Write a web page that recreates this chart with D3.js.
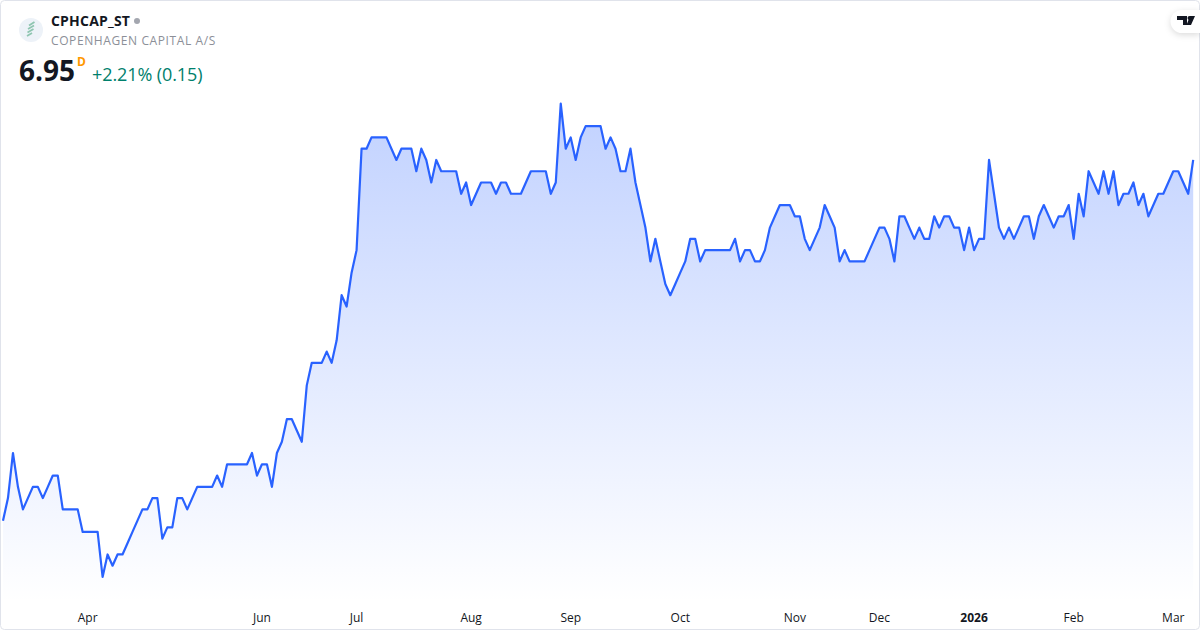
<!DOCTYPE html>
<html>
<head>
<meta charset="utf-8">
<script src="https://cdn.jsdelivr.net/npm/d3@7"></script>
<style>
html,body{margin:0;padding:0;background:#fff;}
svg{display:block;}
text{font-family:"Open Sans","Noto Sans",sans-serif;}
</style>
</head>
<body>
<svg id="chart" width="1200" height="630"></svg>
<script>
const symbol = "CPHCAP_ST";
const companyName = "COPENHAGEN CAPITAL A/S";
const lastPrice = "6.95";
const interval = "D";
const changeLabel = "+2.21% (0.15)";

const closes = [
5.35,5.45,5.65,5.50,5.40,5.45,5.50,5.50,5.45,5.50,5.55,5.55,5.40,5.40,5.40,5.40,
5.30,5.30,5.30,5.30,5.10,5.20,5.15,5.20,5.20,5.25,5.30,5.35,5.40,5.40,5.45,5.45,
5.27,5.32,5.32,5.45,5.45,5.40,5.45,5.50,5.50,5.50,5.50,5.55,5.50,5.60,5.60,5.60,
5.60,5.60,5.65,5.55,5.60,5.60,5.50,5.65,5.70,5.80,5.80,5.75,5.70,5.95,6.05,6.05,
6.05,6.10,6.05,6.15,6.35,6.30,6.45,6.55,7.00,7.00,7.05,7.05,7.05,7.05,7.00,6.95,
7.00,7.00,7.00,6.90,7.00,6.95,6.85,6.95,6.90,6.90,6.90,6.90,6.80,6.85,6.75,6.80,
6.85,6.85,6.85,6.80,6.85,6.85,6.80,6.80,6.80,6.85,6.90,6.90,6.90,6.90,6.80,6.85,
7.20,7.00,7.05,6.95,7.05,7.10,7.10,7.10,7.10,7.00,7.05,7.00,6.90,6.90,7.00,6.85,
6.75,6.65,6.50,6.60,6.50,6.40,6.35,6.40,6.45,6.50,6.60,6.60,6.50,6.55,6.55,6.55,
6.55,6.55,6.55,6.60,6.50,6.55,6.55,6.50,6.50,6.55,6.65,6.70,6.75,6.75,6.75,6.70,
6.70,6.60,6.55,6.60,6.65,6.75,6.70,6.65,6.50,6.55,6.50,6.50,6.50,6.50,6.55,6.60,
6.65,6.65,6.60,6.50,6.70,6.70,6.65,6.60,6.65,6.60,6.60,6.70,6.65,6.70,6.70,6.65,
6.65,6.55,6.65,6.55,6.60,6.60,6.95,6.80,6.65,6.60,6.65,6.60,6.65,6.70,6.70,6.60,
6.70,6.75,6.70,6.65,6.70,6.70,6.75,6.60,6.80,6.70,6.90,6.85,6.80,6.90,6.80,6.90,
6.75,6.80,6.80,6.85,6.75,6.80,6.70,6.75,6.80,6.80,6.85,6.90,6.90,6.85,6.80,6.95
];
const tickIndices = [17,52,71,94,114,136,159,176,195,215,235];
const tickLabels = ["Apr","Jun","Jul","Aug","Sep","Oct","Nov","Dec","2026","Feb","Mar"];

const svg = d3.select("#chart");
const x = d3.scaleLinear().domain([0, closes.length - 1]).range([3, 1193.2]);
const y = d3.scaleLinear().domain([5.10, 7.20]).range([577, 103.6]);
const plotBottom = 602;

const defs = svg.append("defs");
const grad = defs.append("linearGradient").attr("id","fill")
  .attr("gradientUnits","userSpaceOnUse")
  .attr("x1",0).attr("x2",0).attr("y1",y(7.20)).attr("y2",plotBottom);
grad.append("stop").attr("offset",0).attr("stop-color","#2962ff").attr("stop-opacity",0.29);
grad.append("stop").attr("offset",1).attr("stop-color","#2962ff").attr("stop-opacity",0.0);

svg.append("path").datum(closes)
  .attr("fill","url(#fill)")
  .attr("d", d3.area().x((d,i)=>x(i)).y0(plotBottom).y1(d=>y(d)));
svg.append("path").datum(closes)
  .attr("fill","none").attr("stroke","#2962ff").attr("stroke-width",2.2)
  .attr("stroke-linejoin","round")
  .attr("d", d3.line().x((d,i)=>x(i)).y(d=>y(d)));

// time axis
const axis = d3.axisBottom(x).tickValues(tickIndices)
  .tickFormat((d,i)=>tickLabels[i]).tickSize(0).tickPadding(0);
const gAxis = svg.append("g").attr("transform","translate(-0.5,613)").call(axis);
gAxis.select(".domain").remove();
gAxis.selectAll("text")
  .attr("font-size",12).attr("fill","#131722")
  .attr("font-family",'"Open Sans","Noto Sans",sans-serif')
  .attr("font-weight",(d,i)=>tickLabels[i]==="2026"?700:400);

// frame
svg.append("rect").attr("x",0.5).attr("y",0.5).attr("width",1199).attr("height",629)
  .attr("rx",4).attr("fill","none").attr("stroke","#e0e3eb");

// header
const logo = svg.append("g").attr("transform","translate(31,30)");
logo.append("circle").attr("r",12).attr("fill","#edf2f8");
[[-2,-4.5,3.5,-8],[-3,-1,3,-4.5],[-3.5,2.5,2.5,-1],[-4,6,1,3]].forEach(s=>{
  logo.append("line").attr("x1",s[0]).attr("y1",s[1]).attr("x2",s[2]).attr("y2",s[3])
    .attr("stroke","#8ec5b0").attr("stroke-width",1.8);
});
svg.append("text").attr("x",51).attr("y",26).attr("font-size",14).attr("font-weight",700).attr("letter-spacing","0.2").attr("fill","#131722").text(symbol);
svg.append("circle").attr("cx",137).attr("cy",21).attr("r",3).attr("fill","#a3a6af");
svg.append("text").attr("x",51).attr("y",45).attr("font-size",12).attr("fill","#8c8f98").attr("letter-spacing","0.6").text(companyName);
svg.append("text").attr("x",19).attr("y",81).attr("font-size",28).attr("font-weight",700).attr("fill","#131722").text(lastPrice);
svg.append("text").attr("x",77).attr("y",66).attr("font-size",12).attr("font-weight",700).attr("fill","#ff9800").text(interval);
svg.append("text").attr("x",92).attr("y",81).attr("font-size",18).attr("letter-spacing","-0.1").attr("fill","#00806c").text(changeLabel);

// TradingView badge
const badge = svg.append("g");
badge.append("path").attr("d","M1200 10 H1182 a11.5 11.5 0 0 0 0 23 H1200 Z").attr("fill","#fff")
  .style("filter","drop-shadow(0 2px 3px rgba(0,0,0,0.14))");
badge.append("path").attr("fill","#131722")
  .attr("d","M1177 16h10v9h-4v-5h-6z M1190 16h5l-4 9h-4.5z");
badge.append("circle").attr("cx",1189.5).attr("cy",18).attr("r",2).attr("fill","#131722");
</script>
</body>
</html>
